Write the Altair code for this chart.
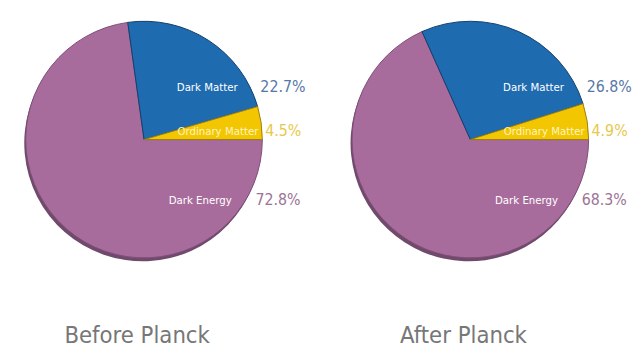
import math
import altair as alt
import pandas as pd

# ---- data ----
components = ["Dark Energy", "Dark Matter", "Ordinary Matter"]
before_pct = [72.8, 22.7, 4.5]
after_pct = [68.3, 26.8, 4.9]
panel_titles = ["Before Planck", "After Planck"]

# ---- styles ----
slice_colors = ["#a86c9c", "#1e6bb0", "#f2c600"]
slice_strokes = ["#7e4d78", "#123f6e", "#9b7f10"]
name_colors = ["#ffffff", "#ffffff", "#fff4c4"]
pct_colors = ["#9c7496", "#5877a6", "#e8c84c"]

W, H = 272, 262
CX, CY = W / 2, H / 2
R = 120

# label layout: pixel offsets from the pie centre
name_pos = {"Dark Matter": (95, -52), "Ordinary Matter": (116, -8), "Dark Energy": (89, 62.5)}
pct_pos = {"Dark Matter": (118, -53.5), "Ordinary Matter": (123, -9), "Dark Energy": (113, 61)}

FONT = "DejaVu Sans Condensed, DejaVu Sans, sans-serif"


def pie(values, title):
    df = pd.DataFrame({"component": components, "value": values, "order": [0, 1, 2]})
    base = alt.Chart(df)
    theta = alt.Theta(
        "value:Q",
        stack=True,
        scale=alt.Scale(range=[math.pi / 2, math.pi / 2 + 2 * math.pi]),
    )
    order = alt.Order("order:Q")
    shadow = base.mark_arc(outerRadius=R, color="#6f4a6b").encode(
        theta=theta, order=order, x=alt.value(CX - 1.5), y=alt.value(CY + 3.5)
    )
    arcs = base.mark_arc(outerRadius=R, strokeWidth=1).encode(
        theta=theta,
        order=order,
        color=alt.Color("component:N", scale=alt.Scale(domain=components, range=slice_colors), legend=None),
        stroke=alt.Stroke("component:N", scale=alt.Scale(domain=components, range=slice_strokes), legend=None),
    )
    layers = [shadow, arcs]
    for i, comp in enumerate(components):
        nx, ny = name_pos[comp]
        layers.append(
            base.transform_filter(alt.datum.component == comp)
            .mark_text(align="right", baseline="middle", font=FONT, fontSize=11.5, color=name_colors[i])
            .encode(x=alt.value(CX + nx), y=alt.value(CY + ny), text="component:N")
        )
        px, py = pct_pos[comp]
        layers.append(
            base.transform_filter(alt.datum.component == comp)
            .transform_calculate(label="format(datum.value, '.1f') + '%'")
            .mark_text(align="left", baseline="middle", font=FONT, fontSize=16, color=pct_colors[i])
            .encode(x=alt.value(CX + px), y=alt.value(CY + py), text="label:N")
        )
    return alt.layer(*layers).properties(
        width=W,
        height=H,
        title=alt.TitleParams(
            title, orient="bottom", fontSize=24, font=FONT, fontWeight="normal",
            color="#777777", offset=56, dx=-7,
        ),
    )


chart = (
    alt.hconcat(pie(before_pct, panel_titles[0]), pie(after_pct, panel_titles[1]), spacing=59, bounds="flush")
    .properties(padding={"left": 2, "top": 0, "right": 0, "bottom": 0})
    .configure_view(stroke=None)
)

chart.save("out.html", embed_options={"renderer": "svg", "actions": False})
